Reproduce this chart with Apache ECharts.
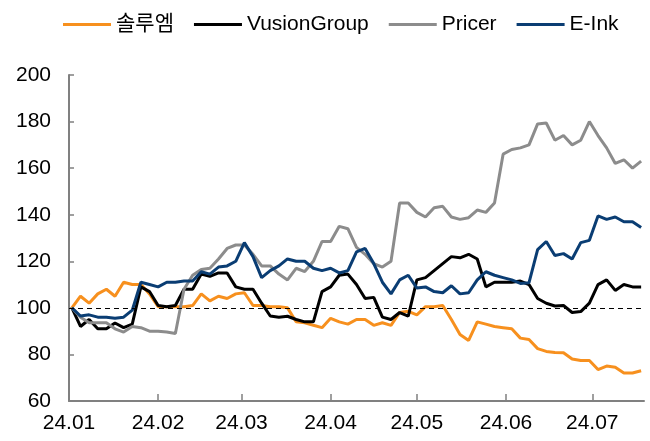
<!DOCTYPE html>
<html>
<head>
<meta charset="utf-8">
<script src="https://cdn.jsdelivr.net/npm/echarts@6/dist/echarts.min.js"></script>
<style>
  html, body { margin: 0; padding: 0; background: #fff; }
  #chart { width: 650px; height: 441px; }
</style>
</head>
<body>
<div id="chart"></div>
<script>
// 일자 (3일 간격 샘플)
var dates = ['2024-01-02','2024-01-05','2024-01-08','2024-01-11','2024-01-14','2024-01-17','2024-01-20','2024-01-23','2024-01-26','2024-01-29',
  '2024-02-01','2024-02-04','2024-02-07','2024-02-10','2024-02-13','2024-02-16','2024-02-19','2024-02-22','2024-02-25','2024-02-28',
  '2024-03-02','2024-03-05','2024-03-08','2024-03-11','2024-03-14','2024-03-17','2024-03-20','2024-03-23','2024-03-26','2024-03-29',
  '2024-04-01','2024-04-04','2024-04-07','2024-04-10','2024-04-13','2024-04-16','2024-04-19','2024-04-22','2024-04-25','2024-04-28',
  '2024-05-01','2024-05-04','2024-05-07','2024-05-10','2024-05-13','2024-05-16','2024-05-19','2024-05-22','2024-05-25','2024-05-28','2024-05-31',
  '2024-06-03','2024-06-06','2024-06-09','2024-06-12','2024-06-15','2024-06-18','2024-06-21','2024-06-24','2024-06-27','2024-06-30',
  '2024-07-03','2024-07-06','2024-07-09','2024-07-12','2024-07-15','2024-07-18'];

var names = ['솔루엠', 'VusionGroup', 'Pricer', 'E-Ink'];

var solum = [100, 105, 102, 106, 108, 105, 111, 110, 110, 106,
  100.5, 100.5, 100.5, 100.5, 101, 106, 103, 105, 104, 106,
  106.5, 101, 101, 100.5, 100.5, 100, 94, 93.6, 92.5, 91.5,
  95.5, 94, 93, 95, 95, 92.5, 93.6, 92.5, 98, 98.5,
  97, 100.5, 100.5, 101, 95, 88.6, 86, 94, 93, 92, 91.5,
  91, 87, 86.4, 82.5, 81.3, 80.8, 80.7, 78, 77.4, 77.4,
  73.5, 75, 74.5, 72, 72, 73];

var vusion = [100, 92, 95, 91, 91, 93.5, 91.5, 93, 109, 107,
  101, 100.5, 101, 108, 108, 114.5, 113.5, 115, 115, 109,
  108, 108, 102, 96.5, 96, 96.4, 95, 94, 94, 107,
  109, 114, 114.5, 110, 104, 104.5, 96, 95, 98, 96.4,
  112, 113, 116, 119, 122, 121.5, 123, 121, 109, 111, 111,
  111, 111.5, 110, 104, 102, 100.8, 101, 98, 98.4, 102,
  110, 112, 107.5, 110, 109, 109];

var pricer = [100, 96, 93.6, 93.6, 93.6, 91, 89.6, 92, 91.5, 90,
  90, 89.6, 89, 108, 114, 116.5, 117, 121, 125.5, 127,
  127, 123, 118, 118, 114.5, 112, 117, 115.6, 120, 128.5,
  128.5, 135, 134, 126, 123, 119, 117.5, 120, 145, 145,
  141, 139, 143, 143.6, 139, 138, 138.7, 142, 141, 145, 166,
  168, 168.7, 170, 179, 179.4, 172, 174, 170, 172, 180,
  174, 168.7, 162, 163.6, 160, 163];

var eink = [100, 96.5, 97, 96, 96, 95.5, 96, 99, 111, 110,
  109, 111, 111, 111.5, 111.5, 115.5, 114.5, 117.5, 118, 120,
  128, 122, 113, 116, 118, 121, 120, 120, 117, 116,
  117, 115, 116, 124, 125.5, 119, 111, 106, 112, 114,
  108.5, 109, 107, 106.5, 109.5, 106, 106.5, 112, 115.5, 114, 113,
  112, 110.5, 110.8, 125, 128.5, 122.5, 123.3, 121, 128, 129,
  139.5, 138, 139, 137, 137, 134.5];

var colors = ['#F7901E', '#000000', '#8C8C8C', '#0A3D73'];
var fontFamily = "'Liberation Sans', 'Noto Sans CJK KR', sans-serif";

function pairs(vals) {
  return dates.map(function (d, i) { return [d, vals[i]]; });
}

function lineSeries(name, vals, color) {
  return {
    name: name,
    type: 'line',
    showSymbol: false,
    symbol: 'none',
    lineStyle: { width: 3, color: color },
    itemStyle: { color: color },
    data: pairs(vals)
  };
}

var myChart = echarts.init(document.getElementById('chart'));

var series = [
  lineSeries(names[0], solum, colors[0]),
  lineSeries(names[1], vusion, colors[1]),
  lineSeries(names[2], pricer, colors[2]),
  lineSeries(names[3], eink, colors[3])
];
// 기준선 100
series[0].markLine = {
  silent: true,
  symbol: 'none',
  label: { show: false },
  lineStyle: { color: '#000', width: 1, type: [5, 4] },
  data: [{ yAxis: 100 }]
};

var option = {
  animation: false,
  textStyle: { fontFamily: fontFamily },
  legend: {
    data: names,
    left: 58,
    top: 9,
    icon: 'rect',
    itemWidth: 48,
    itemHeight: 3,
    itemGap: 20,
    textStyle: { fontSize: 21, color: '#000', fontFamily: fontFamily }
  },
  grid: { left: 69, right: 6, top: 75, bottom: 40, containLabel: false },
  xAxis: {
    type: 'time',
    min: '2024-01-01',
    max: '2024-07-19',
    splitNumber: 7,
    minInterval: 28 * 86400000,
    maxInterval: 31 * 86400000,
    axisLine: { lineStyle: { color: '#808080', width: 2 } },
    axisTick: { show: true, inside: true, length: 7, lineStyle: { color: '#808080', width: 1.5 } },
    minorTick: { show: false },
    splitLine: { show: false },
    axisLabel: {
      fontSize: 21,
      color: '#000',
      margin: 12,
      showMaxLabel: false,
      fontFamily: fontFamily,
      formatter: function (v) {
        var d = new Date(v);
        return String(d.getFullYear()).slice(2) + '.' + ('0' + (d.getMonth() + 1)).slice(-2);
      }
    }
  },
  yAxis: {
    type: 'value',
    min: 60,
    max: 200,
    interval: 20,
    axisLine: { show: true, lineStyle: { color: '#808080', width: 2 } },
    axisTick: { show: true, inside: true, length: 5, lineStyle: { color: '#808080', width: 1.5 } },
    splitLine: { show: false },
    axisLabel: { fontSize: 21, color: '#000', margin: 18, fontFamily: fontFamily }
  },
  series: series
};

myChart.setOption(option);
</script>
</body>
</html>
